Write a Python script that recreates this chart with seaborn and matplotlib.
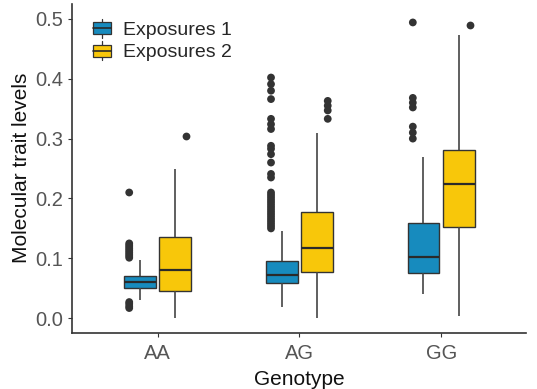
import numpy as np
import pandas as pd
import matplotlib
matplotlib.use("Agg")
import matplotlib.pyplot as plt
from matplotlib.legend_handler import HandlerBase
from matplotlib.patches import Rectangle
from matplotlib.lines import Line2D
import seaborn as sns

genotypes = ["AA", "AG", "GG"]
exposures = ["Exposures 1", "Exposures 2"]
palette = {"Exposures 1": "#178BBE", "Exposures 2": "#F8C70A"}

# Box summaries per (genotype, exposure): lower whisker, Q1, median, Q3, upper whisker
whisker_low = {
    ("AA", "Exposures 1"): 0.030, ("AA", "Exposures 2"): 0.000,
    ("AG", "Exposures 1"): 0.018, ("AG", "Exposures 2"): 0.000,
    ("GG", "Exposures 1"): 0.040, ("GG", "Exposures 2"): 0.003,
}
q1 = {
    ("AA", "Exposures 1"): 0.051, ("AA", "Exposures 2"): 0.046,
    ("AG", "Exposures 1"): 0.059, ("AG", "Exposures 2"): 0.078,
    ("GG", "Exposures 1"): 0.075, ("GG", "Exposures 2"): 0.153,
}
median = {
    ("AA", "Exposures 1"): 0.060, ("AA", "Exposures 2"): 0.081,
    ("AG", "Exposures 1"): 0.073, ("AG", "Exposures 2"): 0.117,
    ("GG", "Exposures 1"): 0.103, ("GG", "Exposures 2"): 0.225,
}
q3 = {
    ("AA", "Exposures 1"): 0.070, ("AA", "Exposures 2"): 0.135,
    ("AG", "Exposures 1"): 0.095, ("AG", "Exposures 2"): 0.178,
    ("GG", "Exposures 1"): 0.159, ("GG", "Exposures 2"): 0.281,
}
whisker_high = {
    ("AA", "Exposures 1"): 0.098, ("AA", "Exposures 2"): 0.249,
    ("AG", "Exposures 1"): 0.146, ("AG", "Exposures 2"): 0.310,
    ("GG", "Exposures 1"): 0.270, ("GG", "Exposures 2"): 0.473,
}

# Outlying observations per group
outliers = {
    ("AA", "Exposures 1"): [0.017, 0.020, 0.024, 0.027, 0.101, 0.104, 0.107,
                            0.110, 0.113, 0.116, 0.119, 0.122, 0.125, 0.210],
    ("AA", "Exposures 2"): [0.304],
    ("AG", "Exposures 1"): [0.150, 0.154, 0.158, 0.162, 0.166, 0.170, 0.174,
                            0.178, 0.182, 0.186, 0.190, 0.194, 0.198, 0.202,
                            0.206, 0.210, 0.235, 0.241, 0.260, 0.274, 0.283,
                            0.288, 0.316, 0.324, 0.333, 0.366, 0.380, 0.391,
                            0.402],
    ("AG", "Exposures 2"): [0.333, 0.347, 0.355, 0.363],
    ("GG", "Exposures 1"): [0.300, 0.310, 0.320, 0.352, 0.360, 0.368, 0.494],
    ("GG", "Exposures 2"): [0.490],
}

box_rows = []
for g in genotypes:
    for e in exposures:
        k = (g, e)
        for v in (whisker_low[k], q1[k], median[k], q3[k], whisker_high[k]):
            box_rows.append({"Genotype": g, "Exposure": e, "value": v})
box_df = pd.DataFrame(box_rows)

out_rows = [{"Genotype": g, "Exposure": e, "value": v}
            for (g, e), vals in outliers.items() for v in vals]
out_df = pd.DataFrame(out_rows)

sns.set_theme(style="ticks")
plt.rcParams["font.family"] = ["Liberation Sans", "DejaVu Sans"]

fig, ax = plt.subplots(figsize=(5.37, 3.89), dpi=100)
fig.subplots_adjust(left=0.135, right=0.98, top=0.99, bottom=0.145)

edge = "#333333"
sns.boxplot(data=box_df, x="Genotype", y="value", hue="Exposure",
            order=genotypes, hue_order=exposures, palette=palette,
            whis=np.inf, width=0.5, gap=0.1, linewidth=1.0, linecolor=edge,
            medianprops={"linewidth": 1.6, "color": "#2a2a2a"},
            whiskerprops={"linewidth": 1.2, "color": "#444444"},
            showcaps=False, showfliers=False, saturation=1, legend=False, ax=ax)

sns.stripplot(data=out_df, x="Genotype", y="value", hue="Exposure",
              order=genotypes, hue_order=exposures, dodge=True, jitter=False,
              palette={e: "#333333" for e in exposures}, size=5.6,
              linewidth=0, legend=False, ax=ax)

ax.set_xlim(-0.6, 2.6)
ax.set_ylim(-0.024, 0.525)
ax.set_yticks([0.0, 0.1, 0.2, 0.3, 0.4, 0.5])
ax.set_yticklabels(["0.0", "0.1", "0.2", "0.3", "0.4", "0.5"])
ax.set_xlabel("Genotype", fontsize=15, color="#111111", labelpad=5)
ax.set_ylabel("Molecular trait levels", fontsize=15, color="#111111", labelpad=3)
ax.tick_params(axis="both", labelsize=14.5, labelcolor="#555555",
               color="#333333", length=3, width=0.8)
ax.tick_params(axis="x", pad=5)
for side in ("top", "right"):
    ax.spines[side].set_visible(False)
for side in ("left", "bottom"):
    ax.spines[side].set_color("#333333")
    ax.spines[side].set_linewidth(1.2)


class BoxKeyHandler(HandlerBase):
    def __init__(self, color):
        super().__init__()
        self.color = color

    def create_artists(self, legend, orig_handle, xdescent, ydescent,
                       width, height, fontsize, trans):
        cx = width / 2 - xdescent
        w = height * 1.3
        stem = Line2D([cx, cx], [-ydescent - 2, height - ydescent + 2],
                      color="#333333", lw=0.9, transform=trans)
        box = Rectangle((cx - w / 2, -ydescent + height * 0.05), w, height * 0.9,
                        facecolor=self.color, edgecolor="#333333", lw=0.9,
                        transform=trans)
        med = Line2D([cx - w / 2, cx + w / 2], [height / 2 - ydescent] * 2,
                     color="#2a2a2a", lw=1.2, transform=trans)
        return [stem, box, med]


handles = [Rectangle((0, 0), 1, 1) for _ in exposures]
ax.legend(handles, exposures, loc="upper left", bbox_to_anchor=(0.0, 1.0),
          frameon=False, fontsize=14, handlelength=1.2, handletextpad=0.5,
          labelspacing=0.25,
          handler_map={h: BoxKeyHandler(palette[e]) for h, e in zip(handles, exposures)})

fig.savefig("out.png", dpi=100)
